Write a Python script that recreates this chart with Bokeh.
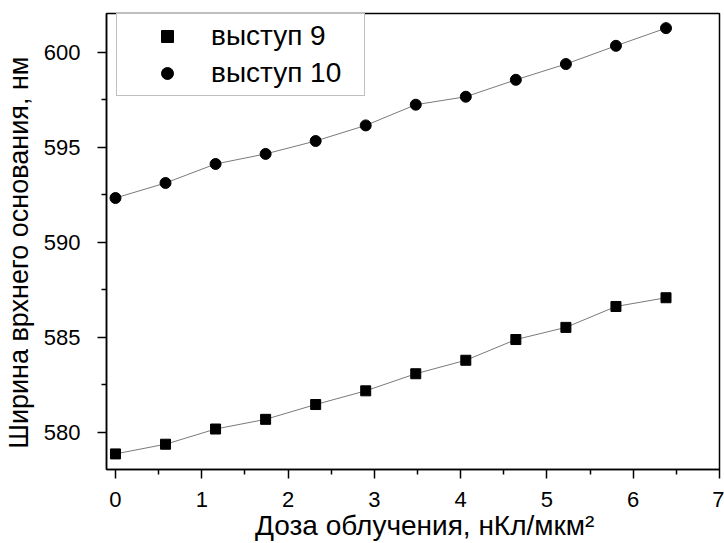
from bokeh.plotting import figure
from bokeh.models import Range1d, FixedTicker, Legend, LegendItem
from bokeh.embed import file_html
from bokeh.resources import INLINE

# ---- data ----
dose = [0.0, 0.58, 1.16, 1.74, 2.32, 2.90, 3.48, 4.06, 4.64, 5.22, 5.80, 6.38]
width_9 = [578.87, 579.38, 580.18, 580.69, 581.47, 582.19, 583.09, 583.80,
           584.89, 585.53, 586.63, 587.09]
width_10 = [592.34, 593.13, 594.13, 594.66, 595.34, 596.16, 597.25, 597.67,
            598.56, 599.39, 600.35, 601.28]
series_labels = ["выступ 9", "выступ 10"]
x_ticks = [0, 1, 2, 3, 4, 5, 6, 7]
y_ticks = [580, 585, 590, 595, 600]
x_label = "Доза облучения, нКл/мкм²"
y_label = "Ширина врхнего основания, нм"

FONT = "Liberation Sans"
NBSP = "\u00a0"

p = figure(width=724, height=543,
           x_range=Range1d(-0.104, 7.0), y_range=Range1d(578.05, 602.05),
           output_backend="svg", toolbar_location=None,
           min_border_left=106, min_border_right=5,
           min_border_top=13, min_border_bottom=74)

p.grid.visible = False
p.outline_line_color = "black"
p.outline_line_width = 1.5
p.background_fill_color = "white"
p.border_fill_color = "white"

# thin grey lines through the points
p.line(dose, width_9, line_color="#7a7a7a", line_width=1)
p.line(dose, width_10, line_color="#7a7a7a", line_width=1)

r9 = p.scatter(dose, width_9, marker="square", size=10, fill_color="black",
               line_color="black")
r10 = p.scatter(dose, width_10, marker="circle", size=11, fill_color="black",
                line_color="black")

p.xaxis.ticker = FixedTicker(ticks=x_ticks,
                             minor_ticks=[t + 0.5 for t in x_ticks[:-1]])
p.yaxis.ticker = FixedTicker(ticks=y_ticks,
                             minor_ticks=[577.5] + [t + 2.5 for t in y_ticks])

for ax in (p.xaxis[0], p.yaxis[0]):
    ax.axis_line_color = "black"
    ax.axis_line_width = 1.5
    ax.major_tick_line_color = "black"
    ax.major_tick_line_width = 1.5
    ax.minor_tick_line_color = "black"
    ax.minor_tick_line_width = 1.5
    ax.major_tick_in = 0
    ax.major_tick_out = 9
    ax.minor_tick_in = 0
    ax.minor_tick_out = 5
    ax.major_label_text_font = FONT
    ax.major_label_text_font_size = "22px"
    ax.major_label_text_color = "black"
    ax.axis_label_text_font = FONT
    ax.axis_label_text_font_style = "normal"
    ax.axis_label_text_color = "black"

# non-breaking spaces only nudge the centred titles to where the reference has them
p.xaxis.axis_label = NBSP * 3 + x_label
p.yaxis.axis_label = y_label + NBSP * 3
p.xaxis.axis_label_text_font_size = "28px"
p.yaxis.axis_label_text_font_size = "27px"
p.xaxis.major_label_standoff = 13
p.yaxis.major_label_standoff = 17
p.xaxis.axis_label_standoff = 0
p.yaxis.axis_label_standoff = 7

legend = Legend(items=[LegendItem(label=series_labels[0], renderers=[r9]),
                       LegendItem(label=series_labels[1], renderers=[r10])],
                location=(10, 373))
legend.label_text_font = FONT
legend.label_text_font_size = "28px"
legend.label_text_color = "black"
legend.border_line_color = "#808080"
legend.border_line_width = 1
legend.background_fill_alpha = 1
legend.padding = 6
legend.glyph_width = 88
legend.glyph_height = 30
legend.label_height = 30
legend.label_standoff = 0
legend.label_width = 147
legend.spacing = 5
legend.margin = 0
p.add_layout(legend, "center")

open("out.html", "w").write(file_html(p, INLINE))
